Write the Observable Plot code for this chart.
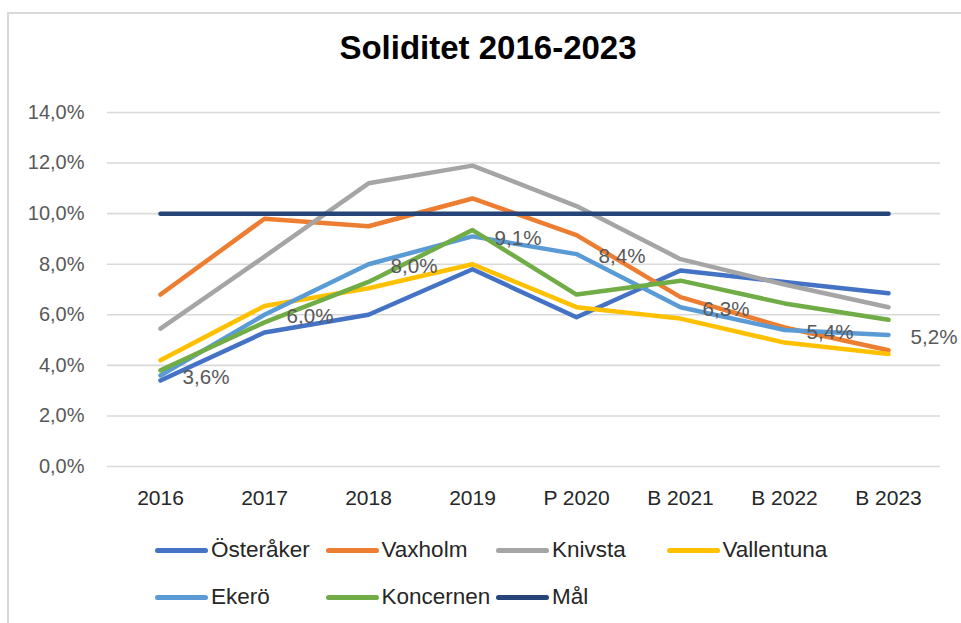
<!DOCTYPE html>
<html>
<head>
<meta charset="utf-8">
<script src="https://cdn.jsdelivr.net/npm/d3@7"></script>
<script src="https://cdn.jsdelivr.net/npm/@observablehq/plot@0.6"></script>
<style>
  html, body { margin: 0; padding: 0; background: #fff; }
  body { width: 961px; height: 623px; position: relative; overflow: hidden; font-family: "Liberation Sans", Arial, sans-serif; }
  #frame { position: absolute; left: 7px; top: 12px; width: 980px; height: 640px; border: 2px solid #d9d9d9; box-sizing: border-box; pointer-events: none; }
  #title { position: absolute; left: 0; width: 976px; top: 30px; text-align: center; font-weight: bold; font-size: 33px; color: #000; line-height: 36px; }
  #chart { position: absolute; left: 0; top: 0; }
  #chart svg { overflow: visible; }
  .lg { position: absolute; display: flex; align-items: center; height: 24px; font-size: 22.5px; color: #262626; white-space: nowrap; }
  .lg .sw { width: 53px; height: 5px; border-radius: 3px; margin-right: 3px; }
</style>
</head>
<body>
<div id="chart"></div>
<div id="title">Soliditet 2016-2023</div>
<div id="legend"></div>
<div id="frame"></div>
<script>
const categories = ["2016", "2017", "2018", "2019", "P 2020", "B 2021", "B 2022", "B 2023"];
const seriesNames = ["Österåker", "Vaxholm", "Knivsta", "Vallentuna", "Ekerö", "Koncernen", "Mål"];
const seriesColors = ["#4472C4", "#ED7D31", "#A5A5A5", "#FFC000", "#5B9BD5", "#70AD47", "#264478"];
const osteraker  = [3.4, 5.3, 6.0, 7.8, 5.9, 7.75, 7.3, 6.85];
const vaxholm    = [6.8, 9.8, 9.5, 10.6, 9.15, 6.7, 5.5, 4.6];
const knivsta    = [5.45, 8.3, 11.2, 11.9, 10.3, 8.2, 7.2, 6.3];
const vallentuna = [4.2, 6.35, 7.05, 8.0, 6.3, 5.85, 4.9, 4.45];
const ekero      = [3.6, 6.0, 8.0, 9.1, 8.4, 6.3, 5.4, 5.2];
const koncernen  = [3.8, 5.7, 7.3, 9.35, 6.8, 7.35, 6.45, 5.8];
const mal        = [10, 10, 10, 10, 10, 10, 10, 10];
const yTicks = [0, 2, 4, 6, 8, 10, 12, 14];

const seriesValues = [osteraker, vaxholm, knivsta, vallentuna, ekero, koncernen, mal];
const data = [];
seriesNames.forEach((name, i) => {
  categories.forEach((c, j) => data.push({series: name, year: c, value: seriesValues[i][j]}));
});
const ekeroData = categories.map((c, j) => ({year: c, value: ekero[j]}));
const fmt = v => v.toFixed(1).replace(".", ",") + "%";

const chart = Plot.plot({
  width: 961,
  height: 520,
  marginTop: 112,
  marginBottom: 54,
  marginLeft: 107,
  marginRight: 21,
  style: {fontFamily: "'Liberation Sans', Arial, sans-serif", fontSize: "20px", background: "transparent", color: "#595959"},
  x: {type: "point", domain: categories, padding: 0.5},
  y: {domain: [0, 14]},
  color: {domain: seriesNames, range: seriesColors},
  marks: [
    Plot.gridY(yTicks, {stroke: "#d9d9d9", strokeOpacity: 1, strokeWidth: 1.6}),
    Plot.axisY(yTicks, {tickSize: 0, tickPadding: 23, tickFormat: fmt, label: null, fill: "#595959", fontSize: 20}),
    Plot.axisX({tickSize: 0, tickPadding: 24, label: null, fill: "#262626", fontSize: 21}),
    Plot.line(data, {x: "year", y: "value", z: "series", stroke: "series", strokeWidth: 4.5, strokeLinecap: "round", strokeLinejoin: "round"}),
    Plot.text(ekeroData, {x: "year", y: "value", text: d => fmt(d.value), textAnchor: "start", dx: 22, dy: 2, fill: "#595959", fontSize: 20.6})
  ]
});
document.getElementById("chart").appendChild(chart);

const legend = document.getElementById("legend");
seriesNames.forEach((name, i) => {
  const item = document.createElement("div");
  item.className = "lg";
  item.style.left = (155 + (i % 4) * 170.5) + "px";
  item.style.top = (538 + Math.floor(i / 4) * 47) + "px";
  const sw = document.createElement("div");
  sw.className = "sw";
  sw.style.background = seriesColors[i];
  const tx = document.createElement("span");
  tx.textContent = name;
  item.appendChild(sw);
  item.appendChild(tx);
  legend.appendChild(item);
});
</script>
</body>
</html>
